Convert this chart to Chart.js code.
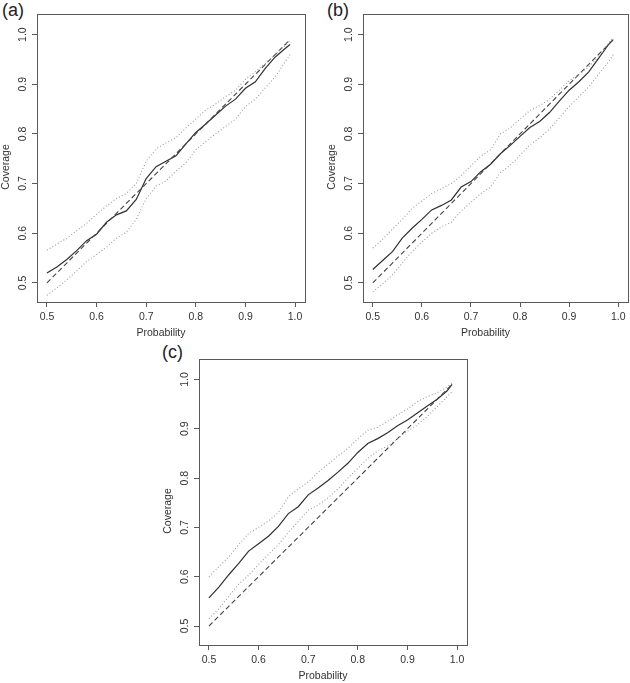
<!DOCTYPE html>
<html>
<head>
<meta charset="utf-8">
<script src="https://cdn.jsdelivr.net/npm/chart.js@4.4.1/dist/chart.umd.min.js"></script>
<style>
  body { margin: 0; background: #fff; width: 630px; height: 683px; position: relative; overflow: hidden; font-family: "Liberation Sans", Arial, sans-serif; }
  canvas { position: absolute; }
  .tag { position: absolute; font-size: 18px; line-height: 20px; color: #222; }
</style>
</head>
<body>
<div class="tag" style="left:2px;top:0px">(a)</div>
<div class="tag" style="left:327px;top:0px">(b)</div>
<div class="tag" style="left:162px;top:342px">(c)</div>
<canvas id="chartA" width="315" height="340" style="left:0;top:0"></canvas>
<canvas id="chartB" width="315" height="340" style="left:315px;top:0"></canvas>
<canvas id="chartC" width="320" height="343" style="left:155px;top:340px"></canvas>
<script>
// nominal probability (x) shared by every panel
const probs = [0.50, 0.52, 0.54, 0.56, 0.58, 0.60, 0.62, 0.64, 0.66, 0.68, 0.70, 0.72, 0.74,
               0.76, 0.78, 0.80, 0.82, 0.84, 0.86, 0.88, 0.90, 0.92, 0.94, 0.96, 0.98, 0.99];
const xTicks = [0.5, 0.6, 0.7, 0.8, 0.9, 1.0];
const yTicks = [0.5, 0.6, 0.7, 0.8, 0.9, 1.0];

// (a)
const coverA = [0.520, 0.532, 0.547, 0.565, 0.585, 0.598, 0.622, 0.637, 0.645, 0.668, 0.710, 0.734, 0.745,
                0.756, 0.780, 0.803, 0.820, 0.838, 0.856, 0.870, 0.892, 0.905, 0.932, 0.955, 0.972, 0.980];
const upperA = [0.566, 0.578, 0.590, 0.605, 0.620, 0.638, 0.655, 0.670, 0.680, 0.700, 0.745, 0.770, 0.782,
                0.792, 0.812, 0.830, 0.848, 0.860, 0.875, 0.888, 0.910, 0.925, 0.942, 0.960, 0.978, 0.988];
const lowerA = [0.475, 0.490, 0.506, 0.524, 0.543, 0.557, 0.572, 0.590, 0.602, 0.628, 0.670, 0.695, 0.705,
                0.725, 0.742, 0.768, 0.785, 0.800, 0.815, 0.830, 0.855, 0.870, 0.893, 0.915, 0.945, 0.960];
// (b)
const coverB = [0.527, 0.545, 0.563, 0.590, 0.610, 0.628, 0.647, 0.656, 0.667, 0.693, 0.704, 0.724, 0.739,
                0.760, 0.777, 0.795, 0.813, 0.825, 0.843, 0.866, 0.888, 0.905, 0.925, 0.952, 0.980, 0.990];
const upperB = [0.570, 0.588, 0.608, 0.628, 0.650, 0.665, 0.680, 0.690, 0.700, 0.716, 0.736, 0.755, 0.768,
                0.800, 0.812, 0.830, 0.847, 0.857, 0.870, 0.888, 0.907, 0.920, 0.935, 0.955, 0.982, 0.995];
const lowerB = [0.482, 0.498, 0.516, 0.540, 0.563, 0.582, 0.600, 0.613, 0.622, 0.645, 0.662, 0.680, 0.693,
                0.722, 0.737, 0.757, 0.778, 0.792, 0.810, 0.832, 0.855, 0.875, 0.895, 0.920, 0.945, 0.960];
// (c)
const coverC = [0.557, 0.579, 0.604, 0.627, 0.652, 0.667, 0.682, 0.702, 0.728, 0.742, 0.766, 0.780, 0.795,
                0.812, 0.830, 0.852, 0.870, 0.880, 0.892, 0.906, 0.918, 0.932, 0.946, 0.960, 0.977, 0.990];
const upperC = [0.600, 0.620, 0.640, 0.665, 0.688, 0.700, 0.713, 0.730, 0.762, 0.778, 0.792, 0.812, 0.828,
                0.845, 0.860, 0.880, 0.897, 0.903, 0.915, 0.928, 0.940, 0.955, 0.965, 0.973, 0.985, 0.993];
const lowerC = [0.515, 0.535, 0.560, 0.585, 0.603, 0.625, 0.645, 0.665, 0.690, 0.712, 0.735, 0.745, 0.760,
                0.778, 0.800, 0.820, 0.840, 0.855, 0.865, 0.880, 0.895, 0.908, 0.925, 0.945, 0.965, 0.975];

const FONT = '"Liberation Sans", Arial, sans-serif';
const TEXT = '#333';
const AXIS = '#5a5a5a';

// box, rotated y labels and axis titles, placed like R's base graphics
const rDecor = {
  id: 'rDecor',
  afterDraw(chart) {
    const { ctx, chartArea: a, scales: { y } } = chart;
    ctx.save();
    ctx.strokeStyle = AXIS;
    ctx.lineWidth = 1;
    ctx.strokeRect(Math.round(a.left) + 0.5, Math.round(a.top) + 0.5,
                   Math.round(a.right - a.left), Math.round(a.bottom - a.top));
    ctx.fillStyle = TEXT;
    ctx.font = '10.5px ' + FONT;
    ctx.textAlign = 'center';
    ctx.textBaseline = 'middle';
    yTicks.forEach(v => {
      ctx.save();
      ctx.translate(a.left - 14, y.getPixelForValue(v));
      ctx.rotate(-Math.PI / 2);
      ctx.fillText(v.toFixed(1), 0, 0);
      ctx.restore();
    });
    ctx.save();
    ctx.translate(a.left - 31, (a.top + a.bottom) / 2 + 9);
    ctx.rotate(-Math.PI / 2);
    ctx.fillText('Coverage', 0, 0);
    ctx.restore();
    ctx.fillText('Probability', (a.left + a.right) / 2 - 10, a.bottom + 31);
    ctx.restore();
  }
};

function pts(ys) {
  return probs.map((p, i) => ({ x: p, y: ys[i] }));
}

function makePanel(id, cover, upper, lower, geo) {
  const dotted = { borderColor: '#9c9c9c', borderWidth: 1.1, borderDash: [1, 2.2], pointRadius: 0 };
  return new Chart(document.getElementById(id), {
    type: 'line',
    data: {
      datasets: [
        { ...dotted, label: 'upper', data: pts(upper) },
        { ...dotted, label: 'lower', data: pts(lower) },
        { label: 'nominal', data: pts(probs), borderColor: '#444', borderWidth: 1.1, borderDash: [5, 3], pointRadius: 0 },
        { label: 'coverage', data: pts(cover), borderColor: '#303030', borderWidth: 1.2, pointRadius: 0 }
      ]
    },
    options: {
      responsive: false,
      animation: false,
      devicePixelRatio: 1,
      layout: { padding: { top: geo.top, right: geo.right, left: 0, bottom: 0 } },
      plugins: { legend: { display: false }, tooltip: { enabled: false } },
      scales: {
        x: {
          type: 'linear', min: 0.48, max: 1.02,
          afterBuildTicks: s => { s.ticks = xTicks.map(v => ({ value: v })); },
          afterFit: s => { s.height = geo.xh; },
          grid: { drawOnChartArea: false, drawTicks: true, tickLength: 5, color: AXIS },
          border: { display: false },
          ticks: { color: TEXT, padding: 3.5, maxRotation: 0, font: { family: FONT, size: 10.5 }, callback: v => v.toFixed(1) }
        },
        y: {
          type: 'linear', min: 0.4615, max: 1.0415,
          afterBuildTicks: s => { s.ticks = yTicks.map(v => ({ value: v })); },
          afterFit: s => { s.width = geo.yw; },
          grid: { drawOnChartArea: false, drawTicks: true, tickLength: 5, color: AXIS },
          border: { display: false },
          ticks: { display: false }
        }
      }
    },
    plugins: [rDecor]
  });
}

makePanel('chartA', coverA, upperA, lowerA, { top: 14, right: 10, yw: 37, xh: 38 });
makePanel('chartB', coverB, upperB, lowerB, { top: 14, right: 2, yw: 48, xh: 38 });
makePanel('chartC', coverC, upperC, lowerC, { top: 19, right: 8, yw: 44, xh: 38 });
</script>
</body>
</html>
